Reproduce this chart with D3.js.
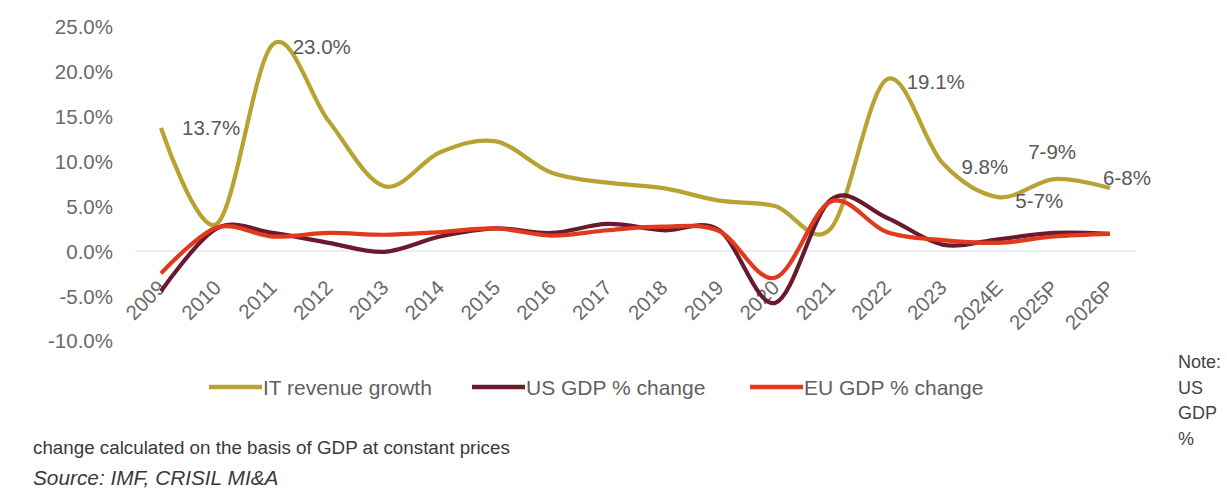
<!DOCTYPE html>
<html>
<head>
<meta charset="utf-8">
<script src="https://cdn.jsdelivr.net/npm/d3@7/dist/d3.min.js"></script>
<style>
  html, body { margin: 0; padding: 0; background: #ffffff; }
  svg { display: block; font-family: "Liberation Sans", Arial, sans-serif; }
</style>
</head>
<body>
<svg id="chart" width="1227" height="489"></svg>
<script>
// Years on the horizontal axis (E = estimate, P = projection)
const categories = ["2009", "2010", "2011", "2012", "2013", "2014", "2015", "2016", "2017",
                    "2018", "2019", "2020", "2021", "2022", "2023", "2024E", "2025P", "2026P"];

// Growth rates, in percent
const itRevenueGrowth = [13.7, 3.0, 23.0, 14.5, 7.2, 11.0, 12.2, 8.7, 7.6, 7.0, 5.6, 5.0, 2.5, 19.1, 9.8, 6.0, 8.0, 7.0];
const usGdpChange     = [-4.5, 2.5, 2.0, 0.9, -0.1, 1.6, 2.5, 2.0, 3.0, 2.3, 2.3, -5.8, 5.7, 3.7, 0.7, 1.3, 2.0, 1.9];
const euGdpChange     = [-2.5, 2.6, 1.6, 2.0, 1.8, 2.1, 2.5, 1.7, 2.3, 2.7, 2.2, -3.0, 5.5, 2.1, 1.2, 0.9, 1.6, 1.9];

const seriesNames = ["IT revenue growth", "US GDP % change", "EU GDP % change"];

// Value labels written on the IT revenue line
const labelYears = ["2009", "2011", "2022", "2023", "2024E", "2025P", "2026P"];
const labelTexts = ["13.7%", "23.0%", "19.1%", "9.8%", "5-7%", "7-9%", "6-8%"];

const yTicks = [-10, -5, 0, 5, 10, 15, 20, 25];

// ---- layout ----
const svg = d3.select("#chart");
const colors = ["#b8a232", "#6a1a2f", "#e2381c"];
const textGray = "#6a6a6a";

const x = d3.scalePoint().domain(categories).range([161, 1110]);
const y = d3.scaleLinear().domain([-10, 25]).range([340.6, 26.6]);

// faint zero line
svg.append("line")
  .attr("x1", 135).attr("x2", 1135)
  .attr("y1", y(0)).attr("y2", y(0))
  .attr("stroke", "#e3e9ee").attr("stroke-width", 1.5);

// y axis labels
const yAxis = d3.axisLeft(y).tickValues(yTicks)
  .tickFormat(d => d3.format(".1f")(d).replace("−", "-") + "%")
  .tickSize(0).tickPadding(0);
const gy = svg.append("g").attr("transform", "translate(113,0)").call(yAxis);
gy.select(".domain").remove();
gy.selectAll("text")
  .attr("font-size", 20.5).attr("fill", textGray)
  .attr("font-family", "Liberation Sans, Arial, sans-serif")
  .attr("dy", "0.36em");

// x axis labels, rotated
const xAxis = d3.axisBottom(x).tickSize(0).tickPadding(0);
const gx = svg.append("g").call(xAxis);
gx.select(".domain").remove();
gx.selectAll(".tick text")
  .attr("font-size", 20.5).attr("fill", textGray)
  .attr("font-family", "Liberation Sans, Arial, sans-serif")
  .attr("text-anchor", "end")
  .attr("dy", null).attr("y", null)
  .attr("transform", "translate(5,289) rotate(-45)");

// lines
const allSeries = [itRevenueGrowth, usGdpChange, euGdpChange];
const line = d3.line()
  .x((d, i) => x(categories[i]))
  .y(d => y(d))
  .curve(d3.curveCardinal.tension(0));

svg.append("g").selectAll("path")
  .data(allSeries)
  .join("path")
  .attr("d", line)
  .attr("fill", "none")
  .attr("stroke", (d, i) => colors[i])
  .attr("stroke-width", 4.2)
  .attr("stroke-linecap", "butt")
  .attr("stroke-linejoin", "round");

// data labels on the IT line: [dx, dy] offsets from the point
const labelOffsets = {
  "2009": [21, 0], "2011": [20, 2], "2022": [20, 2], "2023": [19, 4],
  "2024E": [17, 4], "2025P": [-26, -27], "2026P": [-7, -10]
};
svg.append("g").selectAll("text")
  .data(labelYears)
  .join("text")
  .attr("x", (d) => x(d) + labelOffsets[d][0])
  .attr("y", (d) => y(itRevenueGrowth[categories.indexOf(d)]) + labelOffsets[d][1])
  .attr("dy", "0.36em")
  .attr("font-size", 20.5)
  .attr("fill", "#595959")
  .text((d, i) => labelTexts[i]);

// legend
const legendX = [209, 472, 750];
const legendY = 387;
const lg = svg.append("g");
seriesNames.forEach((name, i) => {
  lg.append("line")
    .attr("x1", legendX[i]).attr("x2", legendX[i] + 53)
    .attr("y1", legendY).attr("y2", legendY)
    .attr("stroke", colors[i]).attr("stroke-width", 4.5);
  lg.append("text")
    .attr("x", legendX[i] + 54).attr("y", legendY)
    .attr("dy", "0.36em")
    .attr("font-size", 21).attr("fill", "#5f5f5f")
    .text(name);
});

// note at the right edge
const noteLines = ["Note:", "US", "GDP", "%"];
svg.append("g").selectAll("text")
  .data(noteLines)
  .join("text")
  .attr("x", 1178)
  .attr("y", (d, i) => 362 + i * 25.5)
  .attr("dy", "0.36em")
  .attr("font-size", 18).attr("fill", "#444444")
  .text(d => d);

// footnote and source
svg.append("text")
  .attr("x", 33).attr("y", 447).attr("dy", "0.36em")
  .attr("font-size", 18.8).attr("fill", "#3a3a3a")
  .text("change calculated on the basis of GDP at constant prices");
svg.append("text")
  .attr("x", 33).attr("y", 478).attr("dy", "0.36em")
  .attr("font-size", 20.8).attr("font-style", "italic").attr("fill", "#3a3a3a")
  .text("Source: IMF, CRISIL MI&A");
</script>
</body>
</html>
